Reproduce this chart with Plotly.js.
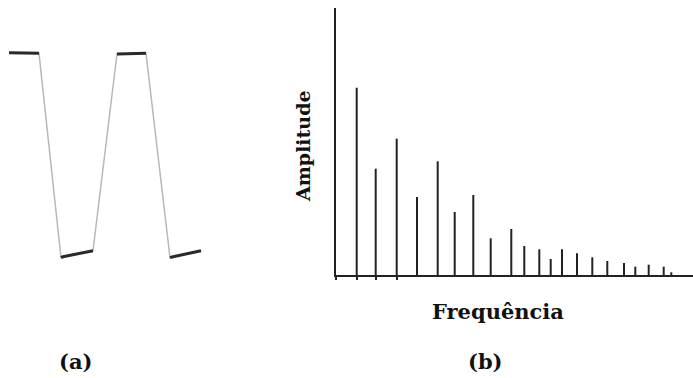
<!DOCTYPE html>
<html>
<head>
<meta charset="utf-8">
<script src="https://cdn.plot.ly/plotly-3.0.1.min.js"></script>
<style>html,body{margin:0;padding:0;background:#fff;}#chart{width:693px;height:378px;}</style>
</head>
<body>
<div id="chart"></div>
<script>
// (b) spectrum: harmonic frequency positions and amplitudes
var freq = [20.7, 39.7, 60.7, 81, 101.7, 118.7, 137.3, 154.7, 175.3, 188.3, 203.3, 214.7, 226, 241, 256.3, 271.3, 288, 299.3, 312.7, 327.7, 335.3];
var amp  = [187.3, 106.3, 136.3, 78, 113.7, 63, 80, 36.7, 46, 29, 25.7, 16, 25.7, 21.7, 17.7, 14, 12, 8.3, 10.3, 8.3, 2.7];

// (a) time-domain waveform (trapezoidal wave)
var waveTime  = [9, 39, 61, 63, 93, 117, 146, 170, 172, 201];
var waveLevel = [217.3, 216.7, 12.3, 13.3, 19.3, 216, 216.7, 12.3, 13, 19.3];
// flat segments drawn darker
var flatSegs = [[0, 1], [2, 4], [5, 6], [7, 9]];

// labels
var yLabel = "Amplitude";
var xLabel = "Frequência";
var panelLabels = ["(a)", "(b)"];

var W = 693, H = 378;
function px(x) { return x / W; }
function py(y) { return (H - y) / H; }

var traces = [];

// spectrum lines
var sx = [], sy = [];
for (var i = 0; i < freq.length; i++) {
  sx.push(freq[i], freq[i], null);
  sy.push(0, amp[i], null);
}
traces.push({
  type: 'scatter', mode: 'lines', x: sx, y: sy,
  line: {color: '#222', width: 2}, hoverinfo: 'skip', showlegend: false,
  xaxis: 'x', yaxis: 'y'
});

// waveform: thin grey edges
traces.push({
  type: 'scatter', mode: 'lines', x: waveTime, y: waveLevel,
  line: {color: '#b8b8b8', width: 1.5}, hoverinfo: 'skip', showlegend: false,
  xaxis: 'x2', yaxis: 'y2'
});
// waveform: dark flats
flatSegs.forEach(function (s) {
  traces.push({
    type: 'scatter', mode: 'lines',
    x: waveTime.slice(s[0], s[1] + 1), y: waveLevel.slice(s[0], s[1] + 1),
    line: {color: '#2a2a2a', width: 3}, hoverinfo: 'skip', showlegend: false,
    xaxis: 'x2', yaxis: 'y2'
  });
});

var fontY = {family: 'DejaVu Serif, serif', size: 19, color: '#111'};
var fontX = {family: 'DejaVu Serif, serif', size: 21, color: '#111'};

var layout = {
  width: W, height: H,
  margin: {l: 0, r: 0, t: 0, b: 0, pad: 0},
  paper_bgcolor: '#fff', plot_bgcolor: 'rgba(0,0,0,0)',
  showlegend: false,
  xaxis: {
    domain: [px(336), 1], range: [0, 357],
    showline: true, linecolor: '#222', linewidth: 2,
    showgrid: false, zeroline: false,
    ticks: 'outside', ticklen: 3, tickwidth: 2, tickcolor: '#222',
    tickmode: 'array', tickvals: [0].concat(freq.slice(0, 3)),
    showticklabels: false, fixedrange: true
  },
  yaxis: {
    domain: [py(275), py(8)], range: [0, 267],
    showline: true, linecolor: '#222', linewidth: 2,
    showgrid: false, zeroline: false, ticks: '', showticklabels: false,
    fixedrange: true
  },
  xaxis2: {
    domain: [0, px(220)], range: [0, 220], anchor: 'y2',
    visible: false, fixedrange: true
  },
  yaxis2: {
    domain: [py(270), py(30)], range: [0, 240], anchor: 'x2',
    visible: false, fixedrange: true
  },
  annotations: [
    {text: '<b>' + yLabel + '</b>', xref: 'paper', yref: 'paper',
     x: px(303), y: py(146), textangle: -90, showarrow: false,
     xanchor: 'center', yanchor: 'middle', font: fontY},
    {text: '<b>' + xLabel + '</b>', xref: 'paper', yref: 'paper',
     x: px(498), y: py(311), showarrow: false,
     xanchor: 'center', yanchor: 'middle', font: fontX},
    {text: '<b>' + panelLabels[0] + '</b>', xref: 'paper', yref: 'paper',
     x: px(75), y: py(361), showarrow: false,
     xanchor: 'center', yanchor: 'middle', font: fontX},
    {text: '<b>' + panelLabels[1] + '</b>', xref: 'paper', yref: 'paper',
     x: px(485), y: py(361), showarrow: false,
     xanchor: 'center', yanchor: 'middle', font: fontX}
  ]
};

Plotly.newPlot('chart', traces, layout, {staticPlot: true, displayModeBar: false});
</script>
</body>
</html>
